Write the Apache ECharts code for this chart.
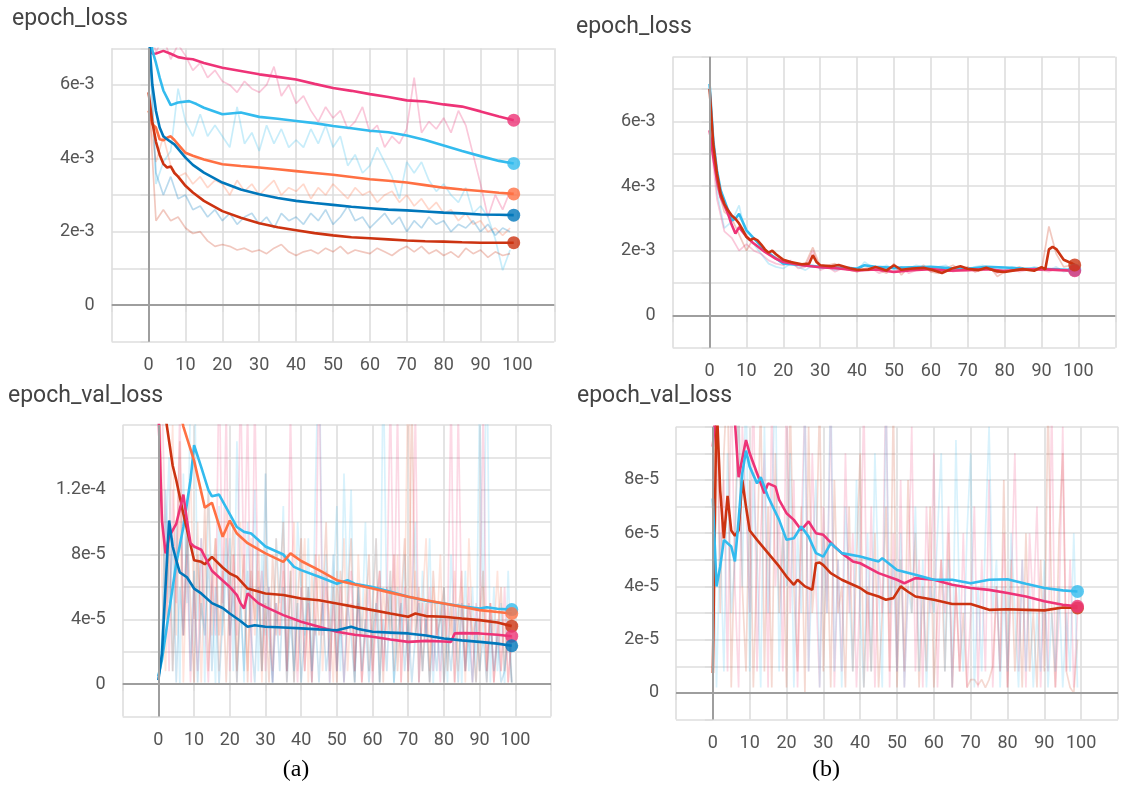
<!DOCTYPE html>
<html><head><meta charset="utf-8">
<script src="https://cdn.jsdelivr.net/npm/echarts@6/dist/echarts.min.js"></script>
<style>html,body{margin:0;padding:0;background:#fff}#c{width:1121px;height:787px}</style>
</head><body><div id="c"></div>
<script>
// ---------- epochs ----------
const EPOCHS = [0,1,2,3,4,5,6,7,8,9,10,11,12,13,14,15,16,17,18,19,20,21,22,23,24,25,26,27,28,29,30,31,32,33,34,35,36,37,38,39,40,41,42,43,44,45,46,47,48,49,50,51,52,53,54,55,56,57,58,59,60,61,62,63,64,65,66,67,68,69,70,71,72,73,74,75,76,77,78,79,80,81,82,83,84,85,86,87,88,89,90,91,92,93,94,95,96,97,98,99];
const EPOCHS_EVEN = [0,2,4,6,8,10,12,14,16,18,20,22,24,26,28,30,32,34,36,38,40,42,44,46,48,50,52,54,56,58,60,62,64,66,68,70,72,74,76,78,80,82,84,86,88,90,92,94,96,98];

// ---------- tick labels ----------
const X_TICK_VALUES = [0,10,20,30,40,50,60,70,80,90,100];
const X_TICK_LABELS = ['0','10','20','30','40','50','60','70','80','90','100'];
const LOSS_Y_TICKS = [0,2,4,6];                 // units of 1e-3
const LOSS_Y_LABELS = ['0','2e-3','4e-3','6e-3'];
const A_VAL_Y_TICKS = [0,4,8,12];               // units of 1e-5
const A_VAL_Y_LABELS = ['0','4e-5','8e-5','1.2e-4'];
const B_VAL_Y_TICKS = [0,2,4,6,8];              // units of 1e-5
const B_VAL_Y_LABELS = ['0','2e-5','4e-5','6e-5','8e-5'];

// ---------- (a) epoch_loss, units 1e-3 ----------
const A_LOSS_MAG_EP = [0,1,2,4,6,8,10,12,15,20,25,30,35,40,45,50,55,60,65,70,75,80,85,90,95,99];
const A_LOSS_MAG = [7.6,6.85,6.86,6.93,6.85,6.76,6.72,6.7,6.6,6.47,6.38,6.29,6.22,6.15,6.03,5.92,5.84,5.75,5.67,5.58,5.55,5.47,5.41,5.28,5.14,5.04];
const A_LOSS_CYAN_EP = [0,1,2,3,4,6,8,11,13,15,20,25,30,35,40,45,50,55,60,65,70,75,80,85,90,95,99];
const A_LOSS_CYAN = [8.0,6.95,6.6,6.2,5.85,5.45,5.52,5.56,5.48,5.38,5.2,5.25,5.13,5.08,5.02,4.96,4.88,4.82,4.75,4.71,4.62,4.5,4.35,4.2,4.06,3.93,3.86];
const A_LOSS_ORANGE_EP = [0,1,2,3,4,5,6,7,8,10,12,15,20,25,30,35,40,45,50,55,60,65,70,75,80,85,90,95,99];
const A_LOSS_ORANGE = [5.3,4.93,4.84,4.52,4.49,4.56,4.6,4.5,4.38,4.15,4.07,3.97,3.84,3.79,3.75,3.7,3.65,3.6,3.55,3.49,3.43,3.39,3.34,3.27,3.2,3.15,3.11,3.06,3.03];
const A_LOSS_BLUE_EP = [0,1,2,3,4,5,7,10,12,15,20,25,30,35,40,45,50,55,60,65,70,75,80,85,90,95,99];
const A_LOSS_BLUE = [7.5,6.02,5.29,4.84,4.6,4.52,4.38,4.02,3.82,3.61,3.34,3.15,3.02,2.92,2.84,2.78,2.73,2.68,2.64,2.6,2.58,2.55,2.52,2.5,2.47,2.46,2.45];
const A_LOSS_RED_EP = [0,1,2,3,4,5,6,7,8,10,12,15,20,25,30,35,40,45,50,55,60,65,70,75,80,85,90,95,99];
const A_LOSS_RED = [5.8,5.0,4.45,4.1,3.85,3.75,3.78,3.6,3.5,3.25,3.07,2.84,2.56,2.38,2.23,2.12,2.04,1.96,1.9,1.85,1.82,1.79,1.76,1.74,1.73,1.71,1.7,1.7,1.7];
// raw (every 2 epochs)
const A_LOSS_RAW_MAG = [7.6,6.9,7.3,6.7,7.1,6.8,6.4,6.6,6.2,6.4,6.1,6.0,5.8,6.1,5.9,5.8,6.0,6.5,5.7,6.0,5.5,5.7,5.3,5.0,5.4,5.1,5.3,4.8,5.0,5.4,4.7,4.9,4.3,4.6,4.4,4.8,6.2,4.7,5.0,4.8,5.1,4.7,5.3,4.9,4.1,3.3,2.4,3.0,2.6,3.1];
const A_LOSS_RAW_CYAN = [8.0,3.3,3.9,4.2,5.9,5.0,4.6,5.2,4.6,4.9,4.6,4.3,5.4,4.4,4.7,4.2,4.9,4.4,4.8,4.3,4.5,4.3,4.8,4.4,4.9,4.3,4.6,3.8,4.1,3.6,3.8,4.3,3.9,3.5,2.9,3.9,3.6,3.9,3.4,3.1,3.3,3.0,2.8,3.2,2.5,2.7,2.4,1.8,0.95,1.5];
const A_LOSS_RAW_ORANGE = [5.3,3.9,4.6,3.8,3.5,3.6,3.3,3.5,3.2,3.4,3.3,3.0,3.4,3.1,3.3,3.0,3.2,3.4,3.0,3.2,3.1,3.3,2.9,3.2,3.0,3.3,3.1,2.9,3.2,3.0,3.1,2.8,3.0,3.1,2.8,3.0,2.7,2.9,2.6,2.8,2.5,2.6,2.3,2.5,2.2,2.3,2.0,2.1,1.9,2.1];
const A_LOSS_RAW_BLUE = [7.5,3.6,3.0,3.5,2.9,3.0,2.6,2.7,2.4,2.6,2.3,2.5,2.2,2.4,2.5,2.2,2.4,2.1,2.5,2.3,2.4,2.2,2.5,2.3,2.6,2.2,2.4,2.7,2.3,2.4,2.1,2.3,2.5,2.2,2.4,2.0,2.3,2.1,2.4,2.2,2.3,2.0,2.2,2.1,2.3,2.0,2.2,1.9,2.1,2.0];
const A_LOSS_RAW_RED = [5.8,2.3,2.6,2.3,2.4,2.1,1.95,2.0,1.75,1.6,1.65,1.6,1.5,1.55,1.45,1.5,1.4,1.55,1.65,1.45,1.35,1.45,1.5,1.4,1.55,1.45,1.6,1.4,1.5,1.45,1.4,1.55,1.45,1.35,1.5,1.6,1.45,1.6,1.4,1.5,1.35,1.45,1.3,1.55,1.4,1.5,1.3,1.45,1.35,1.4];

// ---------- (b) epoch_loss, units 1e-3 ----------
const B_LOSS_RED_EP = [0,1,2,3,4,5,6,7,8,9,10,11,12,13,14,15,16,17,18,20,22,25,27,28,29,30,33,35,38,40,43,45,48,50,52,55,58,60,63,66,68,70,73,75,78,80,83,85,88,90,91,92,93,94,96,98,99];
const B_LOSS_RED = [7.0,5.3,4.38,3.76,3.45,3.25,3.09,2.99,2.84,2.64,2.43,2.33,2.38,2.32,2.19,2.04,1.94,2.0,1.89,1.72,1.65,1.58,1.6,1.86,1.65,1.55,1.52,1.56,1.46,1.41,1.42,1.5,1.39,1.55,1.41,1.45,1.47,1.42,1.31,1.46,1.52,1.44,1.4,1.47,1.36,1.34,1.4,1.43,1.38,1.49,1.42,2.04,2.12,2.05,1.72,1.62,1.56];
const B_LOSS_MAG_EP = [0,1,2,3,5,6,7,8,10,12,15,18,20,25,30,35,40,45,50,55,60,65,70,75,80,85,90,95,99];
const B_LOSS_MAG = [5.72,4.9,4.18,3.66,3.14,2.8,2.53,2.73,2.43,2.22,1.96,1.75,1.65,1.55,1.49,1.45,1.39,1.42,1.34,1.4,1.43,1.38,1.4,1.43,1.37,1.42,1.43,1.4,1.38];
const B_LOSS_CYAN_EP = [0,1,2,3,4,5,6,7,8,9,10,12,15,18,20,25,30,35,40,42,45,50,55,60,65,70,75,80,85,90,95,99];
const B_LOSS_CYAN = [7.16,5.41,4.48,3.87,3.56,3.25,2.94,2.99,3.14,2.89,2.63,2.38,2.02,1.76,1.6,1.56,1.5,1.47,1.45,1.55,1.5,1.47,1.49,1.5,1.46,1.44,1.5,1.48,1.45,1.44,1.42,1.4];
const B_LOSS_RAW_RED = [7.0,4.0,3.2,3.0,2.5,2.0,2.4,2.1,1.9,1.8,1.7,1.6,1.55,1.6,2.1,1.5,1.55,1.6,1.45,1.4,1.35,1.45,1.5,1.4,1.3,1.6,1.25,1.5,1.4,1.55,1.35,1.3,1.45,1.55,1.4,1.5,1.35,1.45,1.5,1.2,1.35,1.4,1.5,1.4,1.45,1.4,2.75,1.9,1.5,1.55];
const B_LOSS_RAW_MAG = [5.72,3.6,2.6,2.4,2.0,2.2,2.0,1.9,1.7,1.6,1.55,1.7,1.45,1.5,2.0,1.4,1.5,1.35,1.45,1.4,1.35,1.4,1.45,1.3,1.4,1.35,1.5,1.3,1.4,1.5,1.35,1.4,1.45,1.35,1.4,1.45,1.35,1.4,1.45,1.3,1.4,1.45,1.35,1.4,1.45,1.4,1.35,1.45,1.4,1.35];
const B_LOSS_RAW_CYAN = [7.16,3.8,2.7,2.9,3.4,2.4,2.2,1.9,1.6,1.5,1.45,1.6,1.5,1.4,1.55,1.45,1.5,1.4,1.45,1.5,1.4,1.65,1.5,1.45,1.55,1.4,1.5,1.45,1.55,1.5,1.45,1.5,1.55,1.4,1.5,1.45,1.5,1.55,1.45,1.5,1.4,1.5,1.45,1.4,1.5,1.45,1.4,1.5,1.35,1.4];

// ---------- (a) epoch_val_loss, units 1e-5 ----------
const A_VAL_BLUE_EP = [0,1,2,3,4,5,6,8,10,12,15,18,20,23,25,27,30,35,40,45,50,54,56,60,65,70,75,80,85,90,95,99];
const A_VAL_BLUE = [0.25,1.9,6.0,10.1,8.5,7.65,6.9,6.6,5.9,5.6,5.0,4.7,4.36,3.9,3.54,3.64,3.54,3.5,3.44,3.38,3.33,3.54,3.4,3.23,3.18,3.13,3.0,2.82,2.7,2.61,2.5,2.37];
const A_VAL_MAG_EP = [0,1,2,3,5,7,8,9,10,12,15,18,20,22,23,24,25,26,28,30,35,40,45,50,55,60,65,70,75,80,82,83,85,90,95,99];
const A_VAL_MAG = [17,10.1,8.07,9.1,9.9,11.7,10.1,8.7,8.5,8.3,7.0,6.4,6.0,5.5,5.0,4.67,5.6,5.4,5.0,4.77,4.26,3.85,3.54,3.23,3.05,2.92,2.76,2.61,2.67,2.63,2.61,3.13,3.15,3.13,3.05,2.96];
const A_VAL_RED_EP = [0,2,4,5,7,10,12,13,15,18,20,22,25,30,35,40,45,50,55,60,65,70,72,75,80,85,90,95,99];
const A_VAL_RED = [20,16.5,13.5,12.6,10.5,7.65,7.55,7.4,7.86,7.2,6.83,6.62,5.9,5.6,5.5,5.29,5.18,4.98,4.77,4.57,4.36,4.16,4.36,4.2,4.16,4.05,3.95,3.8,3.58];
const A_VAL_ORANGE_EP = [0,4,7,10,13,15,18,20,22,25,30,35,37,40,45,50,55,60,65,70,75,80,85,90,95,99];
const A_VAL_ORANGE = [25,19,15.9,13.8,10.9,11.2,9.1,10.1,9.3,8.7,8.07,7.55,8.07,7.6,7.04,6.42,6.15,5.9,5.65,5.39,5.18,4.98,4.78,4.57,4.45,4.36];
const A_VAL_CYAN_EP = [0,1,2,3,5,7,9,10,12,14,15,17,20,22,24,26,28,30,35,38,40,45,50,53,55,60,65,70,75,80,85,90,92,95,99];
const A_VAL_CYAN = [0.5,1.5,3.0,4.5,7.45,9.7,12.6,14.75,13.4,12.0,11.6,11.7,10.5,9.7,9.4,9.3,8.9,8.5,8.0,7.24,7.04,6.63,6.2,6.42,6.2,6.0,5.7,5.39,5.15,4.98,4.8,4.67,4.75,4.65,4.6];
const A_VAL_RAW_CYAN = [0.5,3,8,14,0.8,10,0,13,5,18,22,4,9,0.1,12,6,0,11,3,7,9,0.8,15,6,0.1,10,4,12,0.8,8,3,6,0,9,5,11,0.8,7,0.1,10,6,3,9,0.1,12,22,4,8,0,6,11,0.8,13,5,12,0.1,6,3,10,0.8,5,9,0.1,20,4,7,0,6,3,8,0.8,5,10,0.1,7,3,9,0,5,0.8,6,0.1,8,3,5,0,7,0.8,6,0.1,18,3,22,0.1,6,0.8,5,0,7,0.1];
const A_VAL_RAW_ORANGE = [25,6,0.8,9,16,3,11,0.1,8,13,4,10,0.1,7,12,3,9,0.8,6,11,3,8,0.1,10,5,0.8,9,3,7,0.1,8,4,0.8,9,3,7,0.1,6,10,0.8,5,9,0.1,7,3,8,0.8,6,4,0.1,7,3,9,0.8,5,0.1,8,3,6,0.8,4,9,0.1,6,3,7,0.8,8,0.1,5,20,3,7,0.1,5,9,0.8,6,3,8,0.1,5,3,7,0.8,6,0.1,9,3,4,0.8,6,0.1,5,3,7,0.8,4,0.1,3];
const A_VAL_RAW_RED = [20,12,4,9,0.8,7,15,3,10,5,0.1,8,4,11,0.8,6,9,3,7,0.1,6,10,0.8,5,8,0.1,7,4,9,0.8,5,0.1,8,3,6,10,0.8,7,0.1,5,9,0.8,6,0.1,8,3,5,10,0.8,6,0.1,7,3,5,9,0.8,6,0.1,4,8,0.8,5,7,0.1,6,3,8,0.8,5,9,0.1,18,3,6,0.8,5,0.1,7,3,4,6,0.8,5,0.1,4,7,0.8,5,3,0.1,4,7,0.8,5,0.1,3,6,0.8,4,0.1];
const A_VAL_RAW_MAG = [17,18,9,0.8,12,5,17,3,8,0.1,6,0.8,9,4,0.1,7,3,20,5,17,0.8,8,3,19,6,17,0.1,18,4,7,0.8,6,0.1,5,3,8,0.8,17,4,0.1,6,0.8,5,0.1,4,20,3,7,0.1,5,0.8,6,0.1,4,7,0.8,5,0.1,3,6,0.1,4,7,0.8,5,18,3,17,0.1,6,0.8,4,17,0.1,5,3,6,0.8,4,0.1,5,3,18,0.1,17,4,0.8,6,0.1,5,3,17,0.8,5,0.1,4,0.8,6,0.1,3];
const A_VAL_RAW_BLUE = [0.25,2,12,5,9,0.1,6,3,10,0.8,7,0.1,5,3,8,0.8,6,0,4,9,3,6,0.1,5,0.8,7,3,0.1,6,0.8,13,3,0.1,5,0.8,6,0.1,4,0.8,5,0.1,3,6,0.8,4,0.1,5,0.8,3,8,0.8,4,0.1,5,3,0.1,6,0.8,4,0.1,3,5,0.1,4,0.8,6,0.1,3,5,0.8,4,0.1,3,5,0.8,4,0.1,3,0.8,5,0.1,3,0.8,4,0.1,5,0.8,3,0.1,4,0.8,3,0.1,4,0.8,3,0.1,0.8,3,0.1];

// ---------- (b) epoch_val_loss, units 1e-5 ----------
const B_VAL_RED_EP = [0,1,2,3,4,5,6,7,8,9,10,12,15,18,20,22,23,25,27,28,29,30,32,35,40,42,45,47,49,51,53,55,60,65,70,75,80,85,90,95,99];
const B_VAL_RED = [0.75,11,7.6,5.8,7.4,6.1,5.9,6.1,8.0,7.0,6.1,5.75,5.25,4.75,4.37,4.06,4.25,4.0,3.87,4.87,4.9,4.8,4.5,4.25,3.94,3.75,3.62,3.5,3.56,4.0,3.8,3.62,3.5,3.34,3.34,3.12,3.14,3.12,3.1,3.21,3.19];
const B_VAL_MAG_EP = [0,1,2,4,6,7,9,10,12,14,15,17,18,20,22,24,26,28,30,33,35,38,40,45,50,52,55,60,65,70,75,80,85,90,95,99];
const B_VAL_MAG = [9.25,11,11.5,11.5,10.2,8.1,9.5,9.0,8.25,7.5,7.87,7.75,7.25,6.75,6.5,6.12,6.44,6.0,5.94,5.5,5.25,4.94,4.87,4.5,4.25,4.12,4.31,4.25,4.06,3.94,3.87,3.75,3.62,3.44,3.31,3.25];
const B_VAL_CYAN_EP = [0,1,2,3,4,5,6,7,8,9,10,12,13,15,18,20,22,24,26,28,30,32,35,40,45,46,50,55,60,65,70,75,80,85,90,95,99];
const B_VAL_CYAN = [7.3,4.0,4.75,5.75,5.62,5.5,4.94,6.5,8.25,9.1,8.5,7.87,8.1,7.37,6.5,5.75,5.81,6.25,5.87,5.25,5.12,5.62,5.25,5.12,4.94,5.06,4.62,4.44,4.25,4.25,4.12,4.25,4.27,4.1,3.94,3.85,3.81];
const B_VAL_RAW_RED = [0.75,12,3,9,12,0.2,6,11,4,0.8,8,0.2,5,11,0.8,7,0.2,9,3,6,0.2,11,4,0.8,7,0,10,3,5,11,0.8,6,0.2,8,3,4,0.2,7,0.8,5,9,0.2,4,0.8,6,0.2,3,7,0.8,11,0.2,5,0.8,8,3,6,0.2,4,0.8,7,0.2,3,5,0.8,6,0.2,4,0.8,3,0.2,0.5,0.5,0.3,0.5,0.2,0.5,1,4,0.8,8,0.2,5,0.8,4,0.2,6,0.8,3,0.2,5,0.8,11,3,0.2,6,9,0.8,0.2,0,2];
const B_VAL_RAW_MAG = [9.25,11,5,8,0.8,12,4,0.2,10,7,3,12,0.8,6,9,0.2,11,4,7,0.8,12,3,8,0.2,6,11,0.8,9,4,0.2,7,3,11,0.2,5,0.8,9,3,6,0.2,4,11,0.8,7,0.2,5,3,12,0.2,6,0.8,8,0.2,4,10,0.8,5,0.2,7,3,9,0.2,5,3,7,0.2,4,0.8,6,0.2,3,7,0.2,5,0.8,8,0.2,4,0.8,6,0.2,4,9,0.8,5,0.2,6,3,7,0.2,4,0.8,11,0.2,3,10,0.8,5,0.2,3];
const B_VAL_RAW_CYAN = [7.3,0.2,6,0.8,9,3,5,11,4,12,0.8,8,5,0.2,10,3,7,12,0.8,6,4,9,0.2,6,3,11,0.8,5,8,0.2,6,3,12,0.8,5,0.2,7,4,0.8,8,3,0.2,6,0.8,9,4,0.2,11,3,5,0.8,6,0.2,4,3,7,0.8,5,0.2,4,3,6,9,0.8,5,0.2,9.5,3,0.8,6,9,0.2,4,0.8,6,10,3,5,0.2,4,0.8,6,3,0.2,5,0.8,4,0.2,3,0.8,5,0.2,3,0.8,4,0.2,3,0.8,6,0.2];

// ---------- build ----------
const COLORS = {mag:'#ee3377', cyan:'#33bbee', orange:'#ff7043', blue:'#0077bb', red:'#cc3311'};
const GRID_COLOR = '#dedede';
const pts = (ep, v) => ep.map((e, i) => [e, v[i]]);
const labelFor = (vals, labs, v) => { const i = vals.findIndex(t => Math.abs(t - v) < 1e-6); return i < 0 ? '' : labs[i]; };

const PANELS = [
  { grid:{left:111.7, top:48.3, width:442.6, height:293.4}, y:{min:-1,max:7,interval:1}, yt:[LOSS_Y_TICKS, LOSS_Y_LABELS], rawOpacity:0.27,
    raw:[[EPOCHS_EVEN,A_LOSS_RAW_MAG,'mag'],[EPOCHS_EVEN,A_LOSS_RAW_CYAN,'cyan'],[EPOCHS_EVEN,A_LOSS_RAW_ORANGE,'orange'],[EPOCHS_EVEN,A_LOSS_RAW_BLUE,'blue'],[EPOCHS_EVEN,A_LOSS_RAW_RED,'red']],
    smooth:[[A_LOSS_MAG_EP,A_LOSS_MAG,'mag'],[A_LOSS_CYAN_EP,A_LOSS_CYAN,'cyan'],[A_LOSS_ORANGE_EP,A_LOSS_ORANGE,'orange'],[A_LOSS_BLUE_EP,A_LOSS_BLUE,'blue'],[A_LOSS_RED_EP,A_LOSS_RED,'red']] },
  { grid:{left:672.7, top:56.7, width:442.6, height:291}, y:{min:-1,max:8,interval:1}, yt:[LOSS_Y_TICKS, LOSS_Y_LABELS], rawOpacity:0.27,
    raw:[[EPOCHS_EVEN,B_LOSS_RAW_CYAN,'cyan'],[EPOCHS_EVEN,B_LOSS_RAW_MAG,'mag'],[EPOCHS_EVEN,B_LOSS_RAW_RED,'red']],
    smooth:[[B_LOSS_CYAN_EP,B_LOSS_CYAN,'cyan'],[B_LOSS_MAG_EP,B_LOSS_MAG,'mag'],[B_LOSS_RED_EP,B_LOSS_RED,'red']] },
  { grid:{left:122.7, top:425, width:428.3, height:291.5}, y:{min:-2,max:16,interval:2}, yt:[A_VAL_Y_TICKS, A_VAL_Y_LABELS], rawOpacity:0.19,
    raw:[[EPOCHS,A_VAL_RAW_CYAN,'cyan'],[EPOCHS,A_VAL_RAW_ORANGE,'orange'],[EPOCHS,A_VAL_RAW_RED,'red'],[EPOCHS,A_VAL_RAW_MAG,'mag'],[EPOCHS,A_VAL_RAW_BLUE,'blue']],
    smooth:[[A_VAL_CYAN_EP,A_VAL_CYAN,'cyan'],[A_VAL_ORANGE_EP,A_VAL_ORANGE,'orange'],[A_VAL_RED_EP,A_VAL_RED,'red'],[A_VAL_MAG_EP,A_VAL_MAG,'mag'],[A_VAL_BLUE_EP,A_VAL_BLUE,'blue']] },
  { grid:{left:676, top:426.7, width:448, height:292.8}, y:{min:-1,max:10,interval:1}, yt:[B_VAL_Y_TICKS, B_VAL_Y_LABELS], rawOpacity:0.19,
    raw:[[EPOCHS,B_VAL_RAW_RED,'red'],[EPOCHS,B_VAL_RAW_MAG,'mag'],[EPOCHS,B_VAL_RAW_CYAN,'cyan']],
    smooth:[[B_VAL_RED_EP,B_VAL_RED,'red'],[B_VAL_MAG_EP,B_VAL_MAG,'mag'],[B_VAL_CYAN_EP,B_VAL_CYAN,'cyan']] }
];

const FONT = 'Roboto, "Liberation Sans", Arial, sans-serif';
const grids = [], xAxes = [], yAxes = [], series = [];
PANELS.forEach((p, g) => {
  grids.push(Object.assign({containLabel:false}, p.grid));
  xAxes.push({gridIndex:g, type:'value', min:-10, max:110, interval:10,
    axisLine:{show:false},
    axisTick:{show:true, inside:false, length:7, lineStyle:{color:GRID_COLOR, width:1.6}},
    splitLine:{show:true, lineStyle:{color:GRID_COLOR, width:1.6}},
    axisLabel:{margin:15, fontSize:18, color:'#555', fontFamily:FONT,
      formatter: v => labelFor(X_TICK_VALUES, X_TICK_LABELS, v)}});
  yAxes.push({gridIndex:g, type:'value', min:p.y.min, max:p.y.max, interval:p.y.interval,
    axisLine:{show:false},
    axisTick:{show:true, inside:false, length:8, lineStyle:{color:GRID_COLOR, width:1.6}},
    splitLine:{show:true, lineStyle:{color:GRID_COLOR, width:1.6}},
    axisLabel:{margin:17, fontSize:18, color:'#555', fontFamily:FONT,
      formatter: v => labelFor(p.yt[0], p.yt[1], v)}});
  // zero reference lines
  series.push({type:'line', xAxisIndex:g, yAxisIndex:g, data:[], z:1, silent:true,
    markLine:{silent:true, symbol:'none', animation:false, label:{show:false},
      lineStyle:{color:'#9e9e9e', width:2, type:'solid'}, data:[{xAxis:0},{yAxis:0}]}});
  p.raw.forEach(([ep, v, c]) => series.push({type:'line', xAxisIndex:g, yAxisIndex:g, data:pts(ep, v),
    showSymbol:false, silent:true, z:2, lineStyle:{color:COLORS[c], width:1.7, opacity:p.rawOpacity}}));
  p.smooth.forEach(([ep, v, c]) => {
    series.push({type:'line', xAxisIndex:g, yAxisIndex:g, data:pts(ep, v),
      showSymbol:false, silent:true, z:3, lineStyle:{color:COLORS[c], width:2.6}});
  });
  p.smooth.forEach(([ep, v, c]) => {
    series.push({type:'scatter', xAxisIndex:g, yAxisIndex:g, data:[[ep[ep.length-1], v[v.length-1]]],
      symbolSize:13, silent:true, z:4, itemStyle:{color:COLORS[c]}});
  });
});

const txt = (x, y, text, font, fill, align) => ({type:'text', x, y, z:10, silent:true,
  style:{text, font, fill, align:align||'left', verticalAlign:'middle', textAlign:align||'left', textVerticalAlign:'middle'}});

const chart = echarts.init(document.getElementById('c'), null, {renderer:'canvas', width:1121, height:787});
chart.setOption({
  animation:false,
  backgroundColor:'#ffffff',
  grid:grids, xAxis:xAxes, yAxis:yAxes, series,
  graphic:[
    txt(12, 19, 'epoch_loss', '23px ' + FONT, '#444'),
    txt(576, 27, 'epoch_loss', '23px ' + FONT, '#444'),
    txt(8, 396, 'epoch_val_loss', '23px ' + FONT, '#444'),
    txt(577, 396, 'epoch_val_loss', '23px ' + FONT, '#444'),
    txt(296, 770, '(a)', '24px "Liberation Serif", "Times New Roman", serif', '#000', 'center'),
    txt(826, 770, '(b)', '24px "Liberation Serif", "Times New Roman", serif', '#000', 'center')
  ]
});
</script>
</body></html>
